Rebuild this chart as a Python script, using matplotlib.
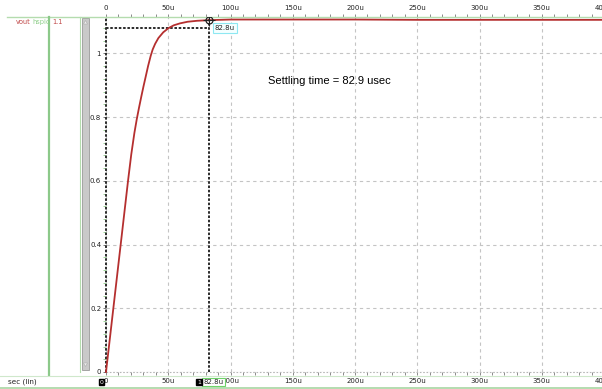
import matplotlib
matplotlib.use("Agg")
import matplotlib.pyplot as plt
import matplotlib.transforms as mtransforms
from matplotlib.lines import Line2D
from matplotlib.patches import Rectangle, Polygon
from matplotlib.ticker import MultipleLocator, FuncFormatter

# vout step response, time in usec
t_us = [0, 5.9, 11.8, 17.7, 20.3, 22.8, 24.7, 26.5, 28.4, 30.1, 31.9, 33.8,
        35.9, 37.5, 39.5, 42.1, 46.0, 50.2, 54.5, 59.5, 65.5, 73.0, 82.8,
        100, 150, 200, 250, 300, 350, 400]
vout = [0, 0.2, 0.4, 0.6, 0.683, 0.75, 0.793, 0.829, 0.865, 0.896, 0.927, 0.960,
        0.992, 1.012, 1.030, 1.048, 1.066, 1.079, 1.088, 1.094, 1.099, 1.102, 1.104,
        1.106, 1.106, 1.106, 1.105, 1.105, 1.105, 1.105]

t_settle = 82.8          # cursor 1 position
v_settle = 1.080         # settling band edge
settle_text = "Settling time = 82.9 usec"

W, H = 602, 389
fig = plt.figure(figsize=(W / 100, H / 100), dpi=100)
fig.patch.set_facecolor("white")


def fx(x):
    return x / W


def fy(y):
    return 1 - y / H


# plot area in pixels: 0..400u across, 0..top of y range down
x0, x1 = 106, 604
ytop, ybot = 16.5, 372
ax = fig.add_axes([fx(x0), fy(ybot), (x1 - x0) / W, (ybot - ytop) / H])
ax.set_xlim(0, 400)
ax.set_ylim(0, 1.1155)
ax.set_facecolor("none")

small = 5
green = "#b4dcae"
label_col = "#222222"

ax.xaxis.set_major_locator(MultipleLocator(50))
ax.xaxis.set_minor_locator(MultipleLocator(10))
ax.yaxis.set_major_locator(MultipleLocator(0.2))
ax.yaxis.set_minor_locator(MultipleLocator(0.04))
ax.xaxis.set_major_formatter(FuncFormatter(lambda v, p: "0" if v == 0 else f"{v:.0f}u"))
ax.yaxis.set_major_formatter(FuncFormatter(lambda v, p: f"{v:g}"))

ax.grid(True, which="major", color="#c4c4c4", linestyle=(0, (3, 3)), linewidth=0.8)
ax.axhline(0, color="#b8b8b8", linestyle=(0, (1.5, 1.5)), linewidth=0.8, clip_on=False)

for side in ("left", "right", "bottom"):
    ax.spines[side].set_visible(False)
ax.spines["top"].set_color(green)
ax.spines["top"].set_linewidth(1.0)

ax.tick_params(axis="x", which="both", top=True, bottom=True, labeltop=True,
               labelbottom=True, direction="out", length=2.3, width=0.7,
               color="#8a8a8a", labelsize=small, labelcolor=label_col, pad=1.8)
ax.tick_params(axis="y", which="major", left=True, direction="out", length=2,
               width=0.7, color="#777777", labelsize=small, labelcolor=label_col, pad=1.5)
ax.tick_params(axis="y", which="minor", left=True, direction="out", length=2,
               width=0.7, color="#9fd49a")

# cursors
cur_kw = dict(color="#2a2a2a", linewidth=1.4, linestyle=(0, (1.3, 0.9)))
ax.axvline(0, clip_on=False, **cur_kw)
ax.axvline(t_settle, **cur_kw)
ax.plot([0, t_settle], [v_settle, v_settle], **cur_kw)

# waveform
ax.plot(t_us, vout, color="#b52f2f", linewidth=1.3, zorder=3, clip_on=False,
        solid_joinstyle="round")

v_cur = vout[t_us.index(t_settle)]
ax.plot(t_settle, v_cur, marker="o", ms=5, mfc="none", mec="#222222", mew=0.9, zorder=4)
ax.plot(t_settle, v_cur, marker="+", ms=8, mec="#222222", mew=0.8, zorder=4)
ax.annotate(f"{t_settle}u", (t_settle, v_cur), xytext=(4, -5.5), textcoords="offset points",
            fontsize=small, va="center", ha="left", color=label_col,
            bbox=dict(boxstyle="square,pad=0.25", fc="#f4ffff", ec="#8ee8f2", lw=0.8))

ax.text(130, 0.913, settle_text, fontsize=8, family="Liberation Sans", va="center", color="black")

# left signal panel
fig.add_artist(Line2D([fx(7), fx(x0)], [fy(ytop)] * 2, color=green, lw=1.0))
fig.add_artist(Line2D([fx(49)] * 2, [fy(ytop), fy(375)], color="#8cc98a", lw=1.6))
fig.add_artist(Line2D([fx(80)] * 2, [fy(ytop), fy(372)], color=green, lw=0.8))
fig.add_artist(Rectangle((fx(82), fy(370)), fx(7), (370 - 18) / H,
                         fc="#c9c9c9", ec="#9a9a9a", lw=0.6, transform=fig.transFigure))
fig.add_artist(Polygon([(fx(83.5), fy(24)), (fx(87.5), fy(24)), (fx(85.5), fy(20.5))],
                       closed=True, fc="#eeeeee", ec="#aaaaaa", lw=0.4, transform=fig.transFigure))
fig.add_artist(Polygon([(fx(83.5), fy(363)), (fx(87.5), fy(363)), (fx(85.5), fy(366.5))],
                       closed=True, fc="#eeeeee", ec="#aaaaaa", lw=0.4, transform=fig.transFigure))

fig.text(fx(16), fy(22), "vout", color="#c04848", fontsize=4.8, va="center")
fig.text(fx(32.5), fy(22), "hspic", color="#8fcf8a", fontsize=4.8, va="center")
fig.text(fx(52), fy(22), "1.1", color="#c04848", fontsize=4.8, va="center")

# bottom axis strip
fig.add_artist(Line2D([0, 1], [fy(375.5)] * 2, color="#cfe8cb", lw=0.8))
fig.add_artist(Line2D([0, 1], [fy(387.5)] * 2, color="#a8d6a2", lw=1.2))
fig.text(fx(8), fy(382), "sec (lin)", color=label_col, fontsize=5.2, va="center")

trans = mtransforms.blended_transform_factory(ax.transData, fig.transFigure)
ax.text(0, fy(382), "0", transform=mtransforms.offset_copy(trans, fig=fig, x=-2.5, units="dots"),
        ha="right", va="center", fontsize=4.4, color="white",
        bbox=dict(boxstyle="square,pad=0.15", fc="black", ec="black"))
ax.text(t_settle, fy(382), f"{t_settle}u",
        transform=mtransforms.offset_copy(trans, fig=fig, x=-6, units="dots"),
        ha="left", va="center", fontsize=small, color=label_col,
        bbox=dict(boxstyle="square,pad=0.2", fc="white", ec="#6fd46a", lw=0.8))
ax.text(t_settle, fy(382), "1",
        transform=mtransforms.offset_copy(trans, fig=fig, x=-8, units="dots"),
        ha="right", va="center", fontsize=4.4, color="white",
        bbox=dict(boxstyle="square,pad=0.15", fc="black", ec="black"))

fig.savefig("out.png", dpi=100)
